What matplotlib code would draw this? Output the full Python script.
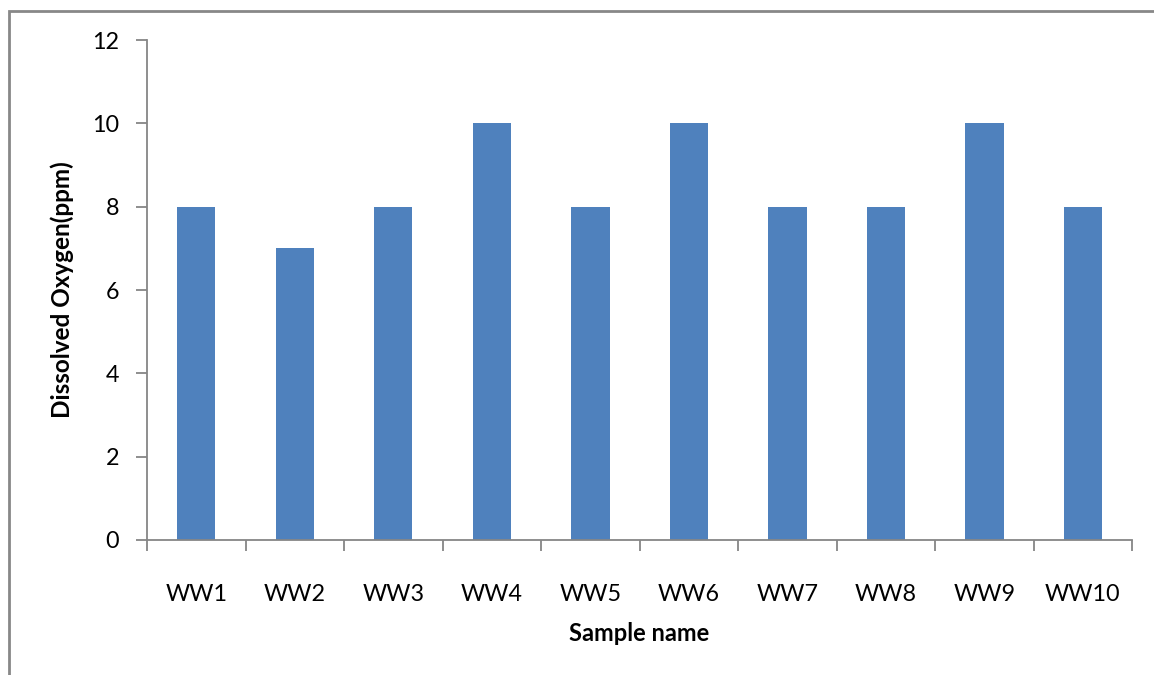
import matplotlib.pyplot as plt
from matplotlib.patches import Rectangle
import numpy as np

plt.rcParams['font.family'] = ['Lato', 'DejaVu Sans']

samples = ['WW1', 'WW2', 'WW3', 'WW4', 'WW5', 'WW6', 'WW7', 'WW8', 'WW9', 'WW10']
dissolved_oxygen = [8, 7, 8, 10, 8, 10, 8, 8, 10, 8]

fig = plt.figure(figsize=(11.54, 6.75), dpi=100)
ax = fig.add_axes([0.1274, 0.2, 0.8536, 0.7407])

x = np.arange(len(samples))
ax.bar(x, dissolved_oxygen, width=0.39, color='#4F81BD', edgecolor='none', zorder=2)

ax.set_xlim(-0.5, len(samples) - 0.5)
ax.set_ylim(0, 12)
ax.set_yticks(range(0, 13, 2))
ax.set_xticks(x)
ax.set_xticklabels(samples)
ax.set_xticks(np.arange(-0.5, len(samples), 1), minor=True)

gray = '#868686'
for s in ['top', 'right']:
    ax.spines[s].set_visible(False)
for s in ['left', 'bottom']:
    ax.spines[s].set_color(gray)
    ax.spines[s].set_linewidth(1.3)

ax.tick_params(axis='x', which='major', length=0, pad=32, labelsize=16.8)
ax.tick_params(axis='x', which='minor', length=8, width=1.3, color=gray, direction='out')
ax.tick_params(axis='y', length=8, width=1.3, color=gray, direction='out', pad=12, labelsize=16.8)

ax.set_xlabel('Sample name', fontsize=17, fontweight='bold', labelpad=12)
ax.set_ylabel('Dissolved Oxygen(ppm)', fontsize=17.5, fontweight='bold', labelpad=13)

fig.patches.append(Rectangle((9 / 1154, -0.05), 1.2, 1 - 11 / 675 + 0.05,
                             transform=fig.transFigure, fill=False,
                             edgecolor='#888888', linewidth=2))

fig.savefig('out.png', dpi=100)
